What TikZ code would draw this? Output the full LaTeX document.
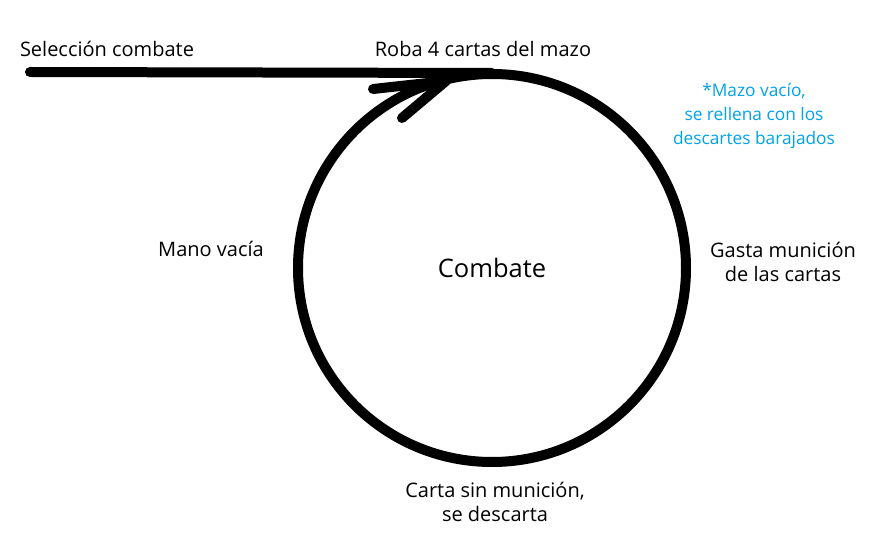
\documentclass[tikz,border=0pt]{standalone}
\usepackage{fontspec}
\setmainfont{Open Sans}
\definecolor{noteblue}{RGB}{0,162,232}
\begin{document}
\begin{tikzpicture}[x=1pt,y=-1pt,
  lbl/.style={inner sep=0pt,font=\fontsize{20}{23.5}\selectfont,align=center},
  thick line/.style={line width=10pt,line cap=round,black}]
\useasboundingbox (0,0) rectangle (871,553);
\node[draw,thick line,circle,minimum size=388pt,inner sep=0pt,font=\fontsize{25.5}{30}\selectfont] (cyc) at (492,268) {Combate};
\coordinate (start) at (30,72);
\coordinate (join) at (492,73);
\draw[thick line] (start) -- (join);
\coordinate (tip) at (446,81);
\coordinate (b1) at (373,89);
\coordinate (b2) at (402,118);
\draw[thick line,line join=round] (b1) -- (tip) -- (b2);
\node[lbl] (sel) at (107,49) {Selección combate};
\node[lbl] (roba) at (483,49) {Roba 4 cartas del mazo};
\node[lbl,text=noteblue,font=\fontsize{17.3}{24}\selectfont] (note) at (754,116) {*Mazo vacío,\\se rellena con los\\descartes barajados};
\node[lbl] (mano) at (211,249) {Mano vacía};
\node[lbl] (gasta) at (783,262) {Gasta munición\\de las cartas};
\node[lbl] (carta) at (495,502) {Carta sin munición,\\se descarta};
\end{tikzpicture}
\end{document}
